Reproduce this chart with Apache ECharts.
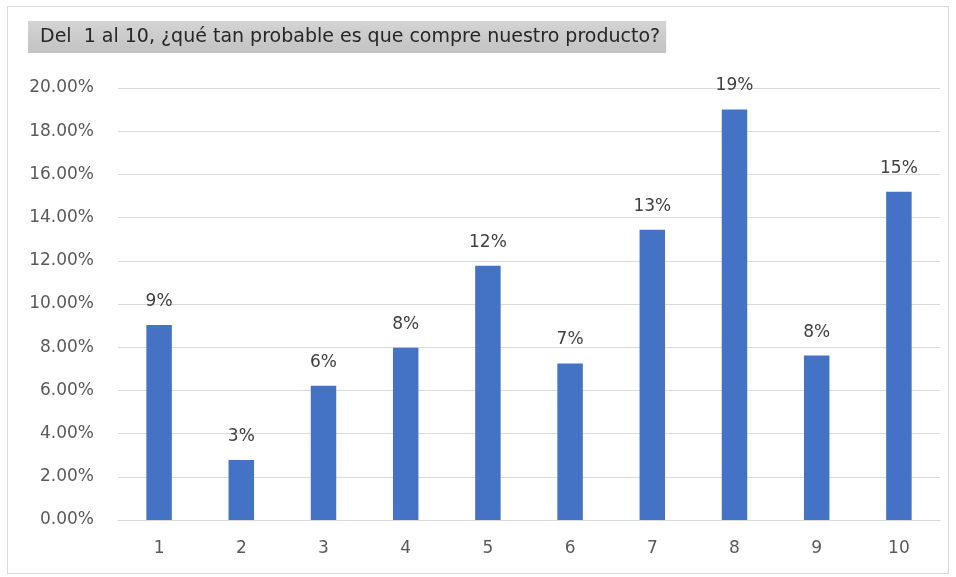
<!DOCTYPE html>
<html>
<head>
<meta charset="utf-8">
<script src="https://cdn.jsdelivr.net/npm/echarts@6/dist/echarts.min.js"></script>
<style>
  html, body { margin: 0; padding: 0; background: #fff; }
  #frame { position: absolute; left: 7px; top: 6px; width: 942px; height: 568px; border: 1px solid #d9d9d9; box-sizing: border-box; }
  #chart { width: 956px; height: 577px; }
</style>
</head>
<body>
<div id="frame"></div>
<div id="chart" style="position:absolute;left:0;top:0;"></div>
<script>
// Scale of 1 to 10 and share of responses (percent)
const categories = ['1', '2', '3', '4', '5', '6', '7', '8', '9', '10'];
const shares = [9.03, 2.78, 6.22, 7.98, 11.77, 7.25, 13.44, 19.01, 7.61, 15.2];
const yTicks = { min: 0, max: 20, step: 2 };
const heading = 'Del  1 al 10, ¿qué tan probable es que compre nuestro producto?';

const chart = echarts.init(document.getElementById('chart'), null, { renderer: 'canvas' });
const font = 'DejaVu Sans, sans-serif';

chart.setOption({
  backgroundColor: 'transparent',
  animation: false,
  title: {
    text: heading,
    left: 28,
    top: 21,
    padding: [7, 6, 6, 12],
    backgroundColor: new echarts.graphic.LinearGradient(0, 0, 0, 1, [
      { offset: 0, color: '#d4d4d4' },
      { offset: 1, color: '#c2c2c2' }
    ]),
    textStyle: { fontFamily: font, fontSize: 19, fontWeight: 'normal', color: '#262626' }
  },
  grid: { left: 118, right: 16, top: 88, bottom: 57 },
  xAxis: {
    type: 'category',
    data: categories,
    axisTick: { show: false },
    axisLine: { lineStyle: { color: '#d9d9d9' } },
    axisLabel: { color: '#595959', fontFamily: font, fontSize: 17, margin: 20 }
  },
  yAxis: {
    type: 'value',
    min: yTicks.min,
    max: yTicks.max,
    interval: yTicks.step,
    axisLine: { show: false },
    axisTick: { show: false },
    splitLine: { lineStyle: { color: '#d9d9d9' } },
    axisLabel: {
      color: '#595959', fontFamily: font, fontSize: 17, margin: 24,
      formatter: v => v.toFixed(2) + '%'
    }
  },
  series: [{
    type: 'bar',
    data: shares,
    barWidth: '31%',
    itemStyle: { color: '#4472C4' },
    label: {
      show: true,
      position: 'top',
      distance: 15,
      color: '#404040',
      fontFamily: font,
      fontSize: 17,
      formatter: p => Math.round(p.value) + '%'
    }
  }]
});
</script>
</body>
</html>
